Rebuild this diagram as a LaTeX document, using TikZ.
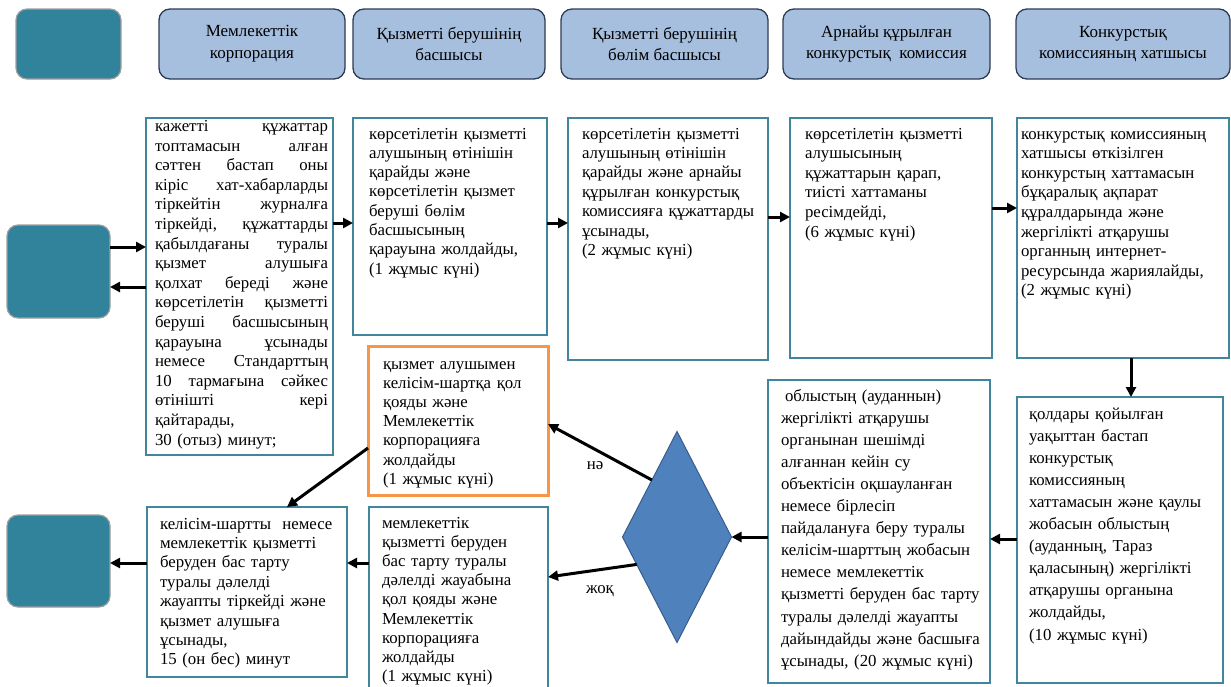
\documentclass[tikz,border=0pt]{standalone}
\usepackage{fontspec}
\setmainfont{Liberation Serif}
\usetikzlibrary{shapes.geometric,arrows.meta,calc}
\definecolor{tealfill}{RGB}{49,131,155}
\definecolor{hdrfill}{RGB}{167,191,222}
\definecolor{hdrline}{RGB}{45,60,85}
\definecolor{boxline}{RGB}{66,134,158}
\definecolor{orline}{RGB}{247,150,70}
\definecolor{diafill}{RGB}{79,129,189}
\definecolor{dialine}{RGB}{56,93,138}
\newcommand\bx[1]{\fontsize{16.8}{#1}\selectfont}
\newcommand\hdr{\fontsize{17}{21.7}\selectfont}
\newcommand\firststrut{\rule{0pt}{13pt}}
\newcommand\jl[1]{{\spaceskip=0.3333em plus 20em\relax\makebox[173pt][s]{#1}}}
\begin{document}
\begin{tikzpicture}[x=1pt,y=-1pt,
  every node/.style={inner sep=0pt, outer sep=0pt},
  tealbox/.style={draw=gray!75, line width=1.2pt, fill=tealfill, rounded corners=11pt, anchor=north west},
  hdrbox/.style={draw=hdrline, line width=1.3pt, fill=hdrfill, rounded corners=11pt, anchor=north west, align=center, font=\hdr},
  bodybox/.style={draw=boxline, line width=2.6pt, anchor=north west},
  orbox/.style={draw=orline, line width=3pt, anchor=north west},
  boxtext/.style={anchor=north west, text width=235pt, align=left},
  arr/.style={line width=3pt, -{Triangle[length=10pt,width=10pt]}},
  lbl/.style={font=\bx{19}}
]
\useasboundingbox (0,0) rectangle (1231,686);
\fill[white] (0,0) rectangle (1231,686);
\clip (0,0) rectangle (1231,686);

% header row
\node[tealbox, minimum width=105pt, minimum height=70pt] (t1) at (16,9) {};
\node[hdrbox, minimum width=186pt, minimum height=70pt] (h1) at (159,9) {Мемлекеттік\\корпорация};
\node[hdrbox, minimum width=192pt, minimum height=70pt] (h2) at (353,9) {Қызметті берушінің\\басшысы};
\node[hdrbox, minimum width=207pt, minimum height=70pt] (h3) at (561,9) {Қызметті берушінің\\бөлім басшысы};
\node[hdrbox, minimum width=207pt, minimum height=70pt] (h4) at (783,9) {Арнайы құрылған\\конкурстық\ \ комиссия};
\node[hdrbox, minimum width=214pt, minimum height=70pt] (h5) at (1016,9) {Конкурстық\\комиссияның хатшысы};

% side teal boxes
\node[tealbox, minimum width=103pt, minimum height=93pt] (t2) at (7,225) {};
\node[tealbox, minimum width=103pt, minimum height=92pt] (t3) at (7,515) {};

% body boxes
\node[bodybox, minimum width=187pt, minimum height=337pt] (A) at (146,118) {};
\node[bodybox, minimum width=194pt, minimum height=217pt] (B) at (353,118) {};
\node[bodybox, minimum width=200pt, minimum height=242pt] (C) at (568,118) {};
\node[bodybox, minimum width=202pt, minimum height=240pt] (D) at (790,118) {};
\node[bodybox, minimum width=212pt, minimum height=240pt] (E) at (1017,118) {};
\node[bodybox, minimum width=206pt, minimum height=286pt] (F) at (1017,397) {};
\node[bodybox, minimum width=222pt, minimum height=303pt] (G) at (768,380) {};
\node[orbox, minimum width=180pt, minimum height=149pt] (H) at (368,346) {};
\node[bodybox, minimum width=179pt, minimum height=200pt] (I) at (369,507) {};
\node[bodybox, minimum width=200pt, minimum height=170pt] (J) at (147,507) {};
\node[diamond, draw=dialine, fill=diafill, line width=1pt, minimum width=109pt, minimum height=211pt] (dia) at (677,537) {};

% texts
\node[boxtext, font=\bx{19.6}] (At) at (155,118.5) {\firststrut\jl{кажетті құжаттар}\\
\jl{топтамасын алған}\\
\jl{сәттен бастап оны}\\
\jl{кіріс хат-хабарларды}\\
\jl{тіркейтін журналға}\\
\jl{тіркейді, құжаттарды}\\
\jl{қабылдағаны туралы}\\
\jl{қызмет алушыға}\\
\jl{қолхат береді және}\\
\jl{көрсетілетін қызметті}\\
\jl{беруші басшысының}\\
\jl{қарауына ұсынады}\\
\jl{немесе Стандарттың}\\
\jl{10 тармағына сәйкес}\\
\jl{өтінішті кері}\\
қайтарады,\\
30 (отыз) минут;};

\node[boxtext, font=\bx{19.3}] (Bt) at (369,126) {\firststrut көрсетілетін қызметті\\
алушының өтінішін\\
қарайды және\\
көрсетілетін қызмет\\
беруші бөлім\\
басшысының\\
қарауына жолдайды,\\
(1 жұмыс күні)};

\node[boxtext, font=\bx{19.4}] (Ct) at (582,126) {\firststrut көрсетілетін қызметті\\
алушының өтінішін\\
қарайды және арнайы\\
құрылған конкурстық\\
комиссияға құжаттарды\\
ұсынады,\\
(2 жұмыс күні)};

\node[boxtext, font=\bx{19.6}] (Dt) at (805,126) {\firststrut көрсетілетін қызметті\\
алушысының\\
құжаттарын қарап,\\
тиісті хаттаманы\\
ресімдейді,\\
(6 жұмыс күні)};

\node[boxtext, font=\bx{19.6}] (Et) at (1021,126) {\firststrut конкурстық комиссияның\\
хатшысы өткізілген\\
конкурстың хаттамасын\\
бұқаралық ақпарат\\
құралдарында және\\
жергілікті атқарушы\\
органның интернет-\\
ресурсында жариялайды,\\
(2 жұмыс күні)};

\node[boxtext, font=\bx{22.1}] (Ft) at (1029,406) {\firststrut қолдары қойылған\\
уақыттан бастап\\
конкурстық\\
комиссияның\\
хаттамасын және қаулы\\
жобасын облыстың\\
(ауданның, Тараз\\
қаласының) жергілікті\\
атқарушы органына\\
жолдайды,\\
(10 жұмыс күні)};

\node[boxtext, font=\bx{22.1}] (Gt) at (781,388) {\firststrut\hspace*{4pt}облыстың (ауданнын)\\
жергілікті атқарушы\\
органынан шешімді\\
алғаннан кейін су\\
объектісін оқшауланған\\
немесе бірлесіп\\
пайдалануға беру туралы\\
келісім-шарттың жобасын\\
немесе мемлекеттік\\
қызметті беруден бас тарту\\
туралы дәлелді жауапты\\
дайындайды және басшыға\\
ұсынады, (20 жұмыс күні)};

\node[boxtext, font=\bx{19.2}] (Ht) at (383,356) {\firststrut қызмет алушымен\\
келісім-шартқа қол\\
қояды және\\
Мемлекеттік\\
корпорацияға\\
жолдайды\\
(1 жұмыс күні)};

\node[boxtext, font=\bx{19.2}] (It) at (382,515) {\firststrut мемлекеттік\\
қызметті беруден\\
бас тарту туралы\\
дәлелді жауабына\\
қол қояды және\\
Мемлекеттік\\
корпорацияға\\
жолдайды\\
(1 жұмыс күні)};

\node[boxtext, font=\bx{19.4}] (Jt) at (160,516) {\firststrut келісім-шартты\ \ немесе\\
мемлекеттік қызметті\\
беруден бас тарту\\
туралы дәлелді\\
жауапты тіркейді және\\
қызмет алушыға\\
ұсынады,\\
15 (он бес) минут};

% labels
\node[lbl] (yes) at (595,466) {нә};
\node[lbl] (no) at (600,591) {жоқ};

% helper coordinates
\coordinate (yAin) at (0,247);
\coordinate (yAout) at (0,287);
\coordinate (yAB) at (0,223);
\coordinate (yCD) at (0,217);
\coordinate (yDE) at (0,208);
\coordinate (xEF) at (1131,0);
\coordinate (yFG) at (0,539);
\coordinate (yDH) at (0,424);
\coordinate (yDI) at (0,577);
\coordinate (yIJ) at (0,563);
\coordinate (yHJ) at (0,448);
\coordinate (xHJ) at (287,0);

% connectors
\draw[arr] (t2.east |- yAin) -- (A.west |- yAin);
\draw[arr] (A.west |- yAout) -- (t2.east |- yAout);
\draw[arr] (A.east |- yAB) -- (B.west |- yAB);
\draw[arr] (B.east |- yAB) -- (C.west |- yAB);
\draw[arr] (C.east |- yCD) -- (D.west |- yCD);
\draw[arr] (D.east |- yDE) -- (E.west |- yDE);
\draw[arr] (E.south -| xEF) -- (F.north -| xEF);
\draw[arr] (F.west |- yFG) -- (G.east |- yFG);
\draw[arr] (G.west |- dia.east) -- (dia.east);
\draw[arr] ($(dia.north)!0.46!(dia.west)$) -- (H.east |- yDH);
\draw[arr] ($(dia.west)!0.26!(dia.south)$) -- (I.east |- yDI);
\draw[arr] (I.west |- yIJ) -- (J.east |- yIJ);
\draw[arr] (J.west |- yIJ) -- (t3.east |- yIJ);
\draw[arr] (H.west |- yHJ) -- (J.north -| xHJ);
\end{tikzpicture}
\end{document}
